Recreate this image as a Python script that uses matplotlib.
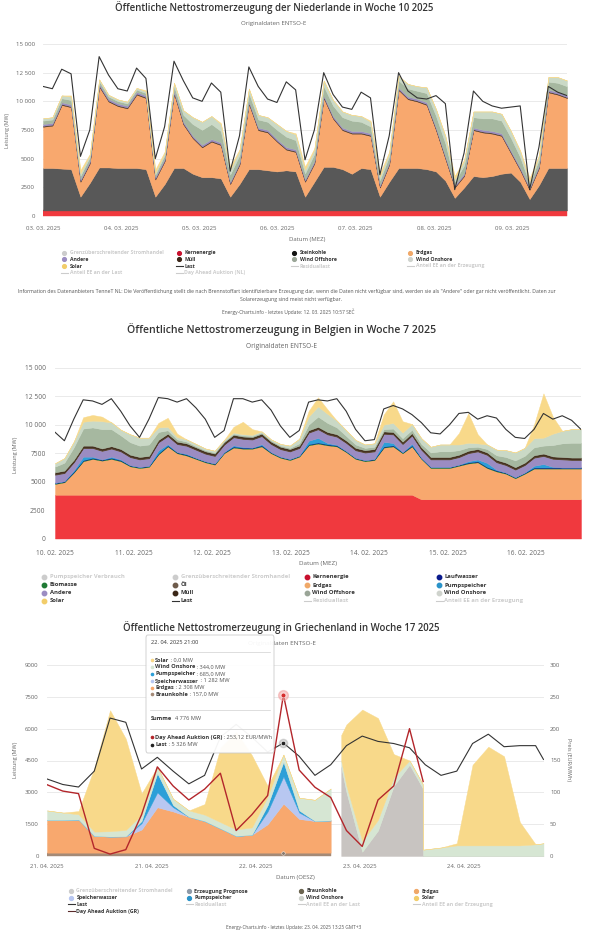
import matplotlib
matplotlib.use('Agg')
import matplotlib.pyplot as plt
from matplotlib.lines import Line2D
from matplotlib.patches import FancyBboxPatch
from matplotlib.text import Annotation
import numpy as np

plt.rcParams['font.family'] = ['Open Sans', 'DejaVu Sans']

# ---------------- data: Niederlande, Woche 10 (3-stündlich, 03.03. 00:00 bis 10.03. 00:00)
hours = np.arange(0, 169, 3)
nl_ticks = [0, 25.1, 50.1, 75.2, 100.2, 125.3, 150.4]
nl_ticklabels = ['03. 03. 2025', '04. 03. 2025', '05. 03. 2025', '06. 03. 2025',
                 '07. 03. 2025', '08. 03. 2025', '09. 03. 2025']
nl_last = [11300, 11100, 12800, 12400, 5200, 7500, 13900, 12300,
           11100, 10900, 12900, 12000, 5000, 7800, 13500, 11800,
           10300, 10000, 11600, 10800, 3900, 7000, 13000, 11300,
           10200, 9900, 11700, 11000, 4900, 7500, 12500, 10600,
           9500, 9300, 10800, 10300, 3600, 7000, 12500, 10900,
           10300, 10200, 10500, 9800, 2300, 5500, 10900, 10000,
           9600, 9400, 9500, 9600, 2300, 6000, 11300, 10800, 10500]
nl_kern = [485] * 57
nl_stein = [3700, 3700, 3650, 3600, 1200, 2400, 3750, 3750,
            3700, 3700, 3700, 3600, 1200, 2300, 3700, 3700,
            3200, 2900, 2900, 2800, 1200, 2300, 3600, 3600,
            3500, 3400, 3500, 3400, 1200, 2500, 3800, 3800,
            3600, 3200, 3700, 3600, 1200, 2500, 3700, 3700,
            3700, 3600, 3400, 2600, 1100, 2000, 3000, 2900,
            3000, 3200, 3300, 2500, 1000, 2200, 3700, 3700, 3700]
nl_gas = [3600, 3700, 5550, 5400, 1300, 1700, 7050, 5750,
          5400, 5200, 6400, 6200, 1500, 2000, 6500, 3800,
          3100, 2600, 3100, 2900, 1100, 1700, 5700, 3400,
          3300, 2600, 1800, 1700, 1300, 1600, 6000, 4200,
          3400, 3500, 3000, 2900, 800, 1500, 6800, 6000,
          5800, 5600, 3600, 1900, 900, 1000, 4000, 3900,
          3700, 3300, 1700, 1000, 800, 1500, 6600, 6400, 6100]
nl_muell = [80] * 57
nl_andere = [150] * 57
nl_off = [300, 300, 350, 400, 300, 300, 250, 200,
          200, 200, 200, 200, 200, 300, 400, 600,
          1000, 1300, 1300, 1000, 600, 600, 700, 700,
          700, 800, 900, 800, 500, 600, 800, 900,
          900, 900, 800, 600, 400, 500, 600, 700,
          700, 800, 1000, 1100, 300, 700, 900, 1000,
          1100, 1100, 1100, 900, 300, 500, 700, 800, 800]
nl_on = [200, 200, 250, 300, 200, 200, 150, 150,
         150, 150, 150, 150, 150, 200, 300, 400,
         600, 700, 700, 600, 400, 400, 400, 400,
         400, 500, 500, 500, 300, 400, 500, 500,
         500, 500, 500, 400, 300, 300, 400, 400,
         400, 500, 600, 600, 200, 400, 500, 600,
         600, 600, 600, 500, 200, 300, 400, 500, 500]
nl_solar = [0, 0, 0, 100, 300, 100, 0, 0,
            0, 0, 0, 100, 300, 100, 0, 0,
            0, 0, 0, 100, 300, 100, 0, 0,
            0, 0, 0, 100, 300, 100, 0, 0,
            0, 0, 0, 100, 300, 100, 0, 0,
            0, 0, 0, 100, 300, 100, 0, 0,
            0, 0, 0, 100, 300, 100, 0, 0, 0]

# ---------------- data: Belgien, Woche 7
be_ticks = [0, 25.1, 50.1, 75.2, 100.3, 125.4, 150.4]
be_ticklabels = ['10. 02. 2025', '11. 02. 2025', '12. 02. 2025', '13. 02. 2025',
                 '14. 02. 2025', '15. 02. 2025', '16. 02. 2025']
be_last = [9350, 8600, 10500, 12200, 12100, 11800, 12300, 11200,
           9900, 8900, 10500, 12400, 12300, 12000, 12300, 11500,
           10500, 8900, 9500, 12300, 12300, 12000, 12200, 11300,
           9900, 8900, 9500, 12000, 12200, 12100, 12300, 11200,
           9600, 8600, 8700, 11400, 11700, 11400, 10900, 10200,
           9300, 9200, 10000, 11000, 11100, 10500, 10800, 10600,
           9600, 8900, 8800, 9600, 11000, 10500, 10800, 10400, 9600]
be_kern = [3850] * 39 + [3450] * 18
be_gas = [950, 1100, 1950, 2950, 3150, 3000, 3150, 2950,
          2500, 2350, 2450, 3550, 4250, 3650, 3450, 3150,
          2850, 2650, 3650, 4150, 4050, 4050, 4250, 3650,
          3250, 3050, 3350, 4350, 4500, 4350, 4250, 3750,
          3150, 2950, 3050, 4150, 4250, 3650, 4250, 3550,
          2750, 2750, 2750, 2950, 3150, 3250, 2750, 2450,
          2250, 1850, 2250, 2700, 2700, 2700, 2700, 2700, 2700]
be_bio = [60] * 57
be_lauf = [40] * 57
be_pump = [0, 0, 100, 300, 100, 0, 100, 50,
           0, 0, 0, 250, 100, 0, 50, 0,
           0, 0, 0, 100, 50, 0, 100, 0,
           0, 0, 0, 300, 400, 100, 50, 0,
           0, 0, 0, 400, 200, 0, 150, 0,
           0, 0, 0, 0, 100, 150, 350, 50,
           0, 0, 0, 150, 300, 50, 0, 0, 0]
be_andere = [700, 700, 700, 750, 750, 750, 700, 700,
             700, 650, 650, 700, 700, 700, 700, 700,
             650, 650, 650, 700, 700, 700, 700, 700,
             650, 650, 650, 700, 750, 750, 700, 700,
             650, 650, 650, 700, 750, 700, 700, 700,
             650, 650, 650, 650, 700, 700, 700, 650,
             650, 650, 650, 700, 700, 700, 700, 650, 650]
be_oel = [40] * 57
be_muell = [180] * 57
be_off = [500, 700, 1100, 1500, 1600, 1700, 1500, 1200,
          1100, 1000, 1000, 700, 300, 200, 150, 100,
          100, 100, 100, 100, 100, 100, 100, 100,
          100, 100, 200, 500, 900, 800, 600, 400,
          300, 200, 200, 200, 300, 300, 300, 300,
          400, 500, 500, 400, 300, 200, 300, 400,
          500, 600, 600, 700, 700, 1000, 1200, 1300, 1300]
be_on = [300, 400, 500, 600, 600, 700, 600, 500,
         700, 700, 600, 400, 300, 200, 200, 200,
         150, 150, 100, 100, 100, 100, 100, 100,
         150, 200, 400, 700, 900, 800, 600, 500,
         400, 300, 300, 400, 500, 500, 500, 500,
         500, 600, 600, 500, 400, 300, 400, 500,
         600, 700, 700, 800, 700, 1000, 1100, 1200, 1200]
be_solar = [0, 0, 0, 400, 500, 400, 0, 0,
            0, 0, 0, 400, 800, 300, 0, 0,
            0, 0, 0, 500, 1100, 500, 0, 0,
            0, 0, 0, 500, 800, 400, 0, 0,
            0, 0, 0, 900, 1900, 1000, 0, 0,
            0, 0, 0, 1000, 2600, 800, 0, 0,
            0, 0, 0, 1200, 3900, 1500, 0, 0, 0]

# ---------------- data: Griechenland, Woche 17 (Stunden ab 21.04. 00:00)
gr_ticks = [0, 20.0, 39.8, 59.6, 79.4]
gr_ticklabels = ['21. 04. 2025', '21. 04. 2025', '22. 04. 2025', '23. 04. 2025', '24. 04. 2025']
gr_hours = np.arange(0, 55, 3)
gr_braun = [157] * 19
gr_gas = [1540, 1540, 1560, 790, 760, 770, 1090, 2140, 1940, 1690,
          1490, 1140, 790, 840, 1340, 2308, 1590, 1490, 1520]
gr_speicher = [0, 0, 0, 0, 0, 0, 300, 700, 200, 0, 0, 0, 0, 0, 600, 1282, 300, 0, 0]
gr_pump = [0, 0, 0, 0, 0, 0, 100, 900, 100, 0, 0, 0, 0, 0, 300, 685, 100, 0, 0]
gr_wind = [450, 350, 250, 200, 250, 300, 300, 300, 300, 300,
           300, 300, 300, 350, 400, 344, 600, 1000, 1500]
gr_solar = [0, 0, 150, 3000, 5700, 4300, 1000, 0, 0, 0,
            500, 3500, 4600, 3400, 500, 0, 0, 0, 0]
fc_hours = [56, 57, 60, 63, 66, 69, 71.5, 71.6, 75, 78, 81, 84, 87, 90, 93, 94.5]
fc_prog = [4200, 3000, 200, 1200, 3300, 4300, 3200, 0, 0, 0, 0, 0, 0, 0, 0, 0]
fc_wind = [300, 300, 500, 500, 400, 200, 200, 300, 400, 500, 500, 500, 500, 500, 550, 600]
fc_solar = [1200, 2900, 6200, 4800, 1100, 0, 0, 0, 0, 100, 3800, 4650, 4200, 1100, 0, 0]
last_hours = list(range(0, 94, 3)) + [94.5]
gr_last = [3630, 3370, 3250, 4000, 6500, 6300, 4100, 4650, 4000, 3400, 3800,
           5600, 6200, 5600, 4900, 5326, 4700, 3800, 4300, 5200, 5650, 5400,
           5300, 5100, 4300, 3800, 4000, 5300, 5740, 5150, 5200, 5200, 4550]
price_hours = list(range(0, 70, 3)) + [71.6]
gr_price = [112, 102, 98, 12, 3, 10, 65, 140, 110, 88, 105, 130, 40,
            65, 95, 253.12, 135, 108, 92, 40, 15, 88, 110, 200, 117]
hover = 15  # 22.04. 21:00

# ---------------- colours
C_KERN, C_STEIN, C_GAS = '#f0393e', '#585858', '#f8a86e'
C_MUELL, C_ANDERE, C_OEL = '#45311f', '#9b8cc2', '#6e5b4b'
C_OFF, C_ON, C_SOLAR = '#a6b8a0', '#cad9c6', '#f8d98a'
C_BIO, C_LAUF, C_PUMP, C_SPEICHER = '#1f7a35', '#0a1a8c', '#2c9fd8', '#b8c7f1'
C_BRAUN, C_PROG, C_GRWIND = '#a48a77', '#c8c4c1', '#d6e6d3'
C_LAST, C_PRICE = '#333333', '#b3262b'

W, H = 603, 933


def fx(px):
    return px / W


def fy(py):
    return 1 - py / H


fig = plt.figure(figsize=(W / 100, H / 100), dpi=100)


def panel(left, top, right, bottom):
    return fig.add_axes([fx(left), fy(bottom), (right - left) / W, (bottom - top) / H])


def style(ax, yticks, ylabels, xticks, xlabels, xpad, ypad, size=4.6):
    for s in ax.spines.values():
        s.set_visible(False)
    ax.set_yticks(yticks)
    ax.set_yticklabels(ylabels)
    ax.set_xticks(xticks)
    ax.set_xticklabels(xlabels)
    ax.tick_params(length=0, labelsize=size, labelcolor='#666666')
    ax.tick_params(axis='x', pad=xpad)
    ax.tick_params(axis='y', pad=ypad)
    ax.grid(axis='y', color='#e6e6e6', lw=0.6)
    ax.set_axisbelow(True)


def ftext(x, y, s, size, color='#666666', **kw):
    return fig.text(fx(x), fy(y), s, fontsize=size, color=color, ha=kw.pop('ha', 'center'),
                    va=kw.pop('va', 'center'), **kw)


def legend(columns, xs, ys, size, ms=3.0):
    for x, entries in zip(xs, columns):
        for y, (label, color, kind, muted) in zip(ys, entries):
            c = '#cccccc' if muted else color
            if kind == 'dot':
                fig.add_artist(Line2D([fx(x)], [fy(y)], marker='o', ms=ms, color=c, ls='none',
                                      transform=fig.transFigure))
            else:
                fig.add_artist(Line2D([fx(x - 3.5), fx(x + 3.5)], [fy(y), fy(y)], color=c, lw=0.8,
                                      transform=fig.transFigure))
            ftext(x + 5.5, y, label, size, color='#cccccc' if muted else '#333333', ha='left',
                  fontweight='bold')


y15 = [0, 2500, 5000, 7500, 10000, 12500, 15000]
y15_lab = ['0', '2500', '5000', '7500', '10 000', '12 500', '15 000']

# ================= Chart 1: Niederlande
ftext(274, 8, 'Öffentliche Nettostromerzeugung der Niederlande in Woche 10 2025', 6.9,
      color='#333333', fontweight='semibold')
ftext(274, 24, 'Originaldaten ENTSO-E', 4.4)
ax1 = panel(43, 44, 567, 216)
ax1.stackplot(hours, nl_kern, nl_stein, nl_gas, nl_muell, nl_andere, nl_off, nl_on, nl_solar,
              colors=[C_KERN, C_STEIN, C_GAS, C_MUELL, C_ANDERE, C_OFF, C_ON, C_SOLAR],
              lw=0.3, edgecolor='face')
ax1.plot(hours, nl_last, color=C_LAST, lw=0.8)
ax1.set_xlim(0, 168)
ax1.set_ylim(0, 15000)
style(ax1, y15, y15_lab, nl_ticks, nl_ticklabels, 7, 5.8, 4.4)
ftext(307, 240, 'Datum (MEZ)', 4.3)
ftext(8, 130, 'Leistung (MW)', 3.8, rotation=90)
legend([[('Grenzüberschreitender Stromhandel', '', 'dot', True), ('Andere', C_ANDERE, 'dot', False),
         ('Solar', '#f2cd6a', 'dot', False), ('Anteil EE an der Last', '', 'line', True)],
        [('Kernenergie', '#c8102e', 'dot', False), ('Müll', '#3b2617', 'dot', False),
         ('Last', C_LAST, 'line', False), ('Day Ahead Auktion (NL)', '', 'line', True)],
        [('Steinkohle', '#111111', 'dot', False), ('Wind Offshore', '#9aa597', 'dot', False),
         ('Residuallast', '', 'line', True)],
        [('Erdgas', '#f0a868', 'dot', False), ('Wind Onshore', '#cfd3cd', 'dot', False),
         ('Anteil EE an der Erzeugung', '', 'line', True)]],
       [64, 179, 294, 410], [252.7, 259.3, 266, 272.7], 3.7, ms=2.7)
ftext(287, 292, 'Information des Datenanbieters TenneT NL: Die Veröffentlichung stellt die nach '
      'Brennstoffart identifizierbare Erzeugung dar, wenn die Daten nicht verfügbar sind, werden sie '
      'als "Andere" oder gar nicht veröffentlicht. Daten zur', 3.7, color='#555555')
ftext(291, 299, 'Solarerzeugung sind meist nicht verfügbar.', 3.7, color='#555555')
ftext(288, 312, 'Energy-Charts.info - letztes Update: 12. 03. 2025 10:57 SEČ', 3.5, color='#555555')

# ================= Chart 2: Belgien
ftext(282, 330, 'Öffentliche Nettostromerzeugung in Belgien in Woche 7 2025', 7.6,
      color='#333333', fontweight='semibold')
ftext(282, 347, 'Originaldaten ENTSO-E', 4.8)
ax2 = panel(55, 368, 581, 538.5)
ax2.stackplot(hours, be_kern, be_gas, be_bio, be_lauf, be_pump, be_andere, be_oel, be_muell,
              be_off, be_on, be_solar,
              colors=[C_KERN, C_GAS, C_BIO, C_LAUF, C_PUMP, C_ANDERE, C_OEL, C_MUELL,
                      C_OFF, C_ON, C_SOLAR],
              lw=0.3, edgecolor='face')
ax2.plot(hours, be_last, color=C_LAST, lw=0.8)
ax2.set_xlim(0, 168)
ax2.set_ylim(0, 15000)
style(ax2, y15, y15_lab, be_ticks, be_ticklabels, 8, 6.8, 4.8)
ftext(318, 563, 'Datum (MEZ)', 4.5)
ftext(15, 455, 'Leistung (MW)', 4.0, rotation=90)
legend([[('Pumpspeicher Verbrauch', '', 'dot', True), ('Biomasse', C_BIO, 'dot', False),
         ('Andere', C_ANDERE, 'dot', False), ('Solar', '#f2cd6a', 'dot', False)],
        [('Grenzüberschreitender Stromhandel', '', 'dot', True), ('Öl', C_OEL, 'dot', False),
         ('Müll', '#3b2617', 'dot', False), ('Last', C_LAST, 'line', False)],
        [('Kernenergie', '#c8102e', 'dot', False), ('Erdgas', '#f0a868', 'dot', False),
         ('Wind Offshore', '#9aa597', 'dot', False), ('Residuallast', '', 'line', True)],
        [('Laufwasser', C_LAUF, 'dot', False), ('Pumpspeicher', '#2a93c9', 'dot', False),
         ('Wind Onshore', '#cfd3cd', 'dot', False), ('Anteil EE an der Erzeugung', '', 'line', True)]],
       [44, 175, 307, 439], [576.7, 585, 592.7, 600.7], 4.2, ms=3.2)

# ================= Chart 3: Griechenland
ftext(281, 628, 'Öffentliche Nettostromerzeugung in Griechenland in Woche 17 2025', 6.9,
      color='#333333', fontweight='semibold')
ftext(282, 643, 'Originaldaten ENTSO-E', 4.6)
ax3 = panel(47, 665, 544, 856)
ax3.stackplot(gr_hours, gr_braun, gr_gas, gr_speicher, gr_pump, gr_wind, gr_solar,
              colors=[C_BRAUN, C_GAS, C_SPEICHER, C_PUMP, C_GRWIND, C_SOLAR],
              lw=0.3, edgecolor='face')
ax3.stackplot(fc_hours, fc_prog, fc_wind, fc_solar, colors=[C_PROG, C_GRWIND, C_SOLAR],
              lw=0.3, edgecolor='face')
ax3.plot(last_hours, gr_last, color=C_LAST, lw=0.8)
ax3.set_xlim(0, 94.6)
ax3.set_ylim(0, 9000)
style(ax3, [0, 1500, 3000, 4500, 6000, 7500, 9000],
      ['0', '1500', '3000', '4500', '6000', '7500', '9000'],
      gr_ticks, gr_ticklabels, 6, 6, 4.3)
ax3b = ax3.twinx()
ax3b.plot(price_hours, gr_price, color=C_PRICE, lw=1.0)
ax3b.set_ylim(0, 300)
for s in ax3b.spines.values():
    s.set_visible(False)
ax3b.set_yticks([0, 50, 100, 150, 200, 250, 300])
ax3b.tick_params(length=0, labelsize=4.3, labelcolor='#666666', pad=4.3)
# hover markers at 22.04. 21:00
ax3.plot([last_hours[hover]], [gr_last[hover]], 'o', ms=6, color='#999999', alpha=0.35)
ax3.plot([last_hours[hover]], [gr_last[hover]], 'o', ms=3.2, color='#222222', mec='white', mew=0.4)
ax3.plot([gr_hours[hover]], [gr_braun[hover]], 'o', ms=2.5, color='#8a7b6e', mec='white', mew=0.3)
ax3b.plot([price_hours[hover]], [gr_price[hover]], 'o', ms=7, color='#f29a9a', alpha=0.5)
ax3b.plot([price_hours[hover]], [gr_price[hover]], 'o', ms=3.5, color='#d62d2d', mec='white', mew=0.4)
ftext(295, 877, 'Datum (OESZ)', 4.3)
ftext(15, 760, 'Leistung (MW)', 4.0, rotation=90)
ftext(569, 760, 'Preis (EUR/MWh)', 4.0, rotation=270)
legend([[('Grenzüberschreitender Stromhandel', '', 'dot', True), ('Speicherwasser', C_SPEICHER, 'dot', False),
         ('Last', C_LAST, 'line', False), ('Day Ahead Auktion (GR)', '#5a2a2a', 'line', False)],
        [('Erzeugung Prognose', '#8e9aa8', 'dot', False), ('Pumpspeicher', '#2a93c9', 'dot', False),
         ('Residuallast', '', 'line', True)],
        [('Braunkohle', '#6b6450', 'dot', False), ('Wind Onshore', '#cfd3cd', 'dot', False),
         ('Anteil EE an der Last', '', 'line', True)],
        [('Erdgas', '#f0a868', 'dot', False), ('Solar', '#f2cd6a', 'dot', False),
         ('Anteil EE an der Erzeugung', '', 'line', True)]],
       [71, 189, 301, 416], [891, 897.7, 904.3, 911], 3.8, ms=2.8)
ftext(294, 928, 'Energy-Charts.info - letztes Update: 23. 04. 2025 13:25 GMT+3', 3.4, color='#555555')


# ---------------- tooltip
def de_num(v):
    if v >= 1000:
        return f"{v:,.0f}".replace(',', ' ')
    return f"{v:.1f}".replace('.', ',')


tx0, ty0, tx1, ty1 = 146, 635, 274, 753
fig.add_artist(FancyBboxPatch((fx(tx0), fy(ty1)), (tx1 - tx0) / W, (ty1 - ty0) / H,
                              boxstyle='round,pad=0,rounding_size=0.003', transform=fig.transFigure,
                              facecolor='white', edgecolor='#c8c8c8', lw=0.6, alpha=0.95, zorder=20))


def tip_line(y, color, name, value, bold=True):
    if color:
        fig.add_artist(Line2D([fx(151.5)], [fy(y)], marker='o', ms=1.6, color=color, ls='none',
                              transform=fig.transFigure, zorder=21))
    t = ftext(155 if color else 151, y, name, 4.1, color='#333333', ha='left',
              fontweight='bold' if bold else 'normal', zorder=21)
    if value:
        fig.add_artist(Annotation(value, xy=(1, 0.5), xycoords=t, va='center', ha='left',
                                  fontsize=4.1, color='#555555', zorder=21))


def sep(y):
    fig.add_artist(Line2D([fx(150), fx(270)], [fy(y), fy(y)], color='#d0d0d0', lw=0.5,
                          transform=fig.transFigure, zorder=21))


tip_line(642, None, '22. 04. 2025 21:00', None, bold=False)
sep(651.5)
tip_line(660, C_SOLAR, 'Solar', ' : ' + de_num(gr_solar[hover]) + ' MW')
tip_line(667, C_GRWIND, 'Wind Onshore', ' : ' + de_num(gr_wind[hover]) + ' MW')
tip_line(674, C_PUMP, 'Pumpspeicher', ' : ' + de_num(gr_pump[hover]) + ' MW')
tip_line(681, C_SPEICHER, 'Speicherwasser', ' : ' + de_num(gr_speicher[hover]) + ' MW')
tip_line(687.5, C_GAS, 'Erdgas', ' : ' + de_num(gr_gas[hover]) + ' MW')
tip_line(694, C_BRAUN, 'Braunkohle', ' : ' + de_num(gr_braun[hover]) + ' MW')
sep(710)
summe = (gr_solar[hover] + gr_wind[hover] + gr_pump[hover] + gr_speicher[hover]
         + gr_gas[hover] + gr_braun[hover])
tip_line(718.5, None, 'Summe', '  ' + de_num(summe) + ' MW')
sep(729)
tip_line(737, C_PRICE, 'Day Ahead Auktion (GR)',
         ' : ' + f"{gr_price[hover]:.2f}".replace('.', ',') + ' EUR/MWh')
tip_line(744.5, '#222222', 'Last', ' : ' + de_num(gr_last[hover]) + ' MW')

fig.savefig('out.png', dpi=100)
